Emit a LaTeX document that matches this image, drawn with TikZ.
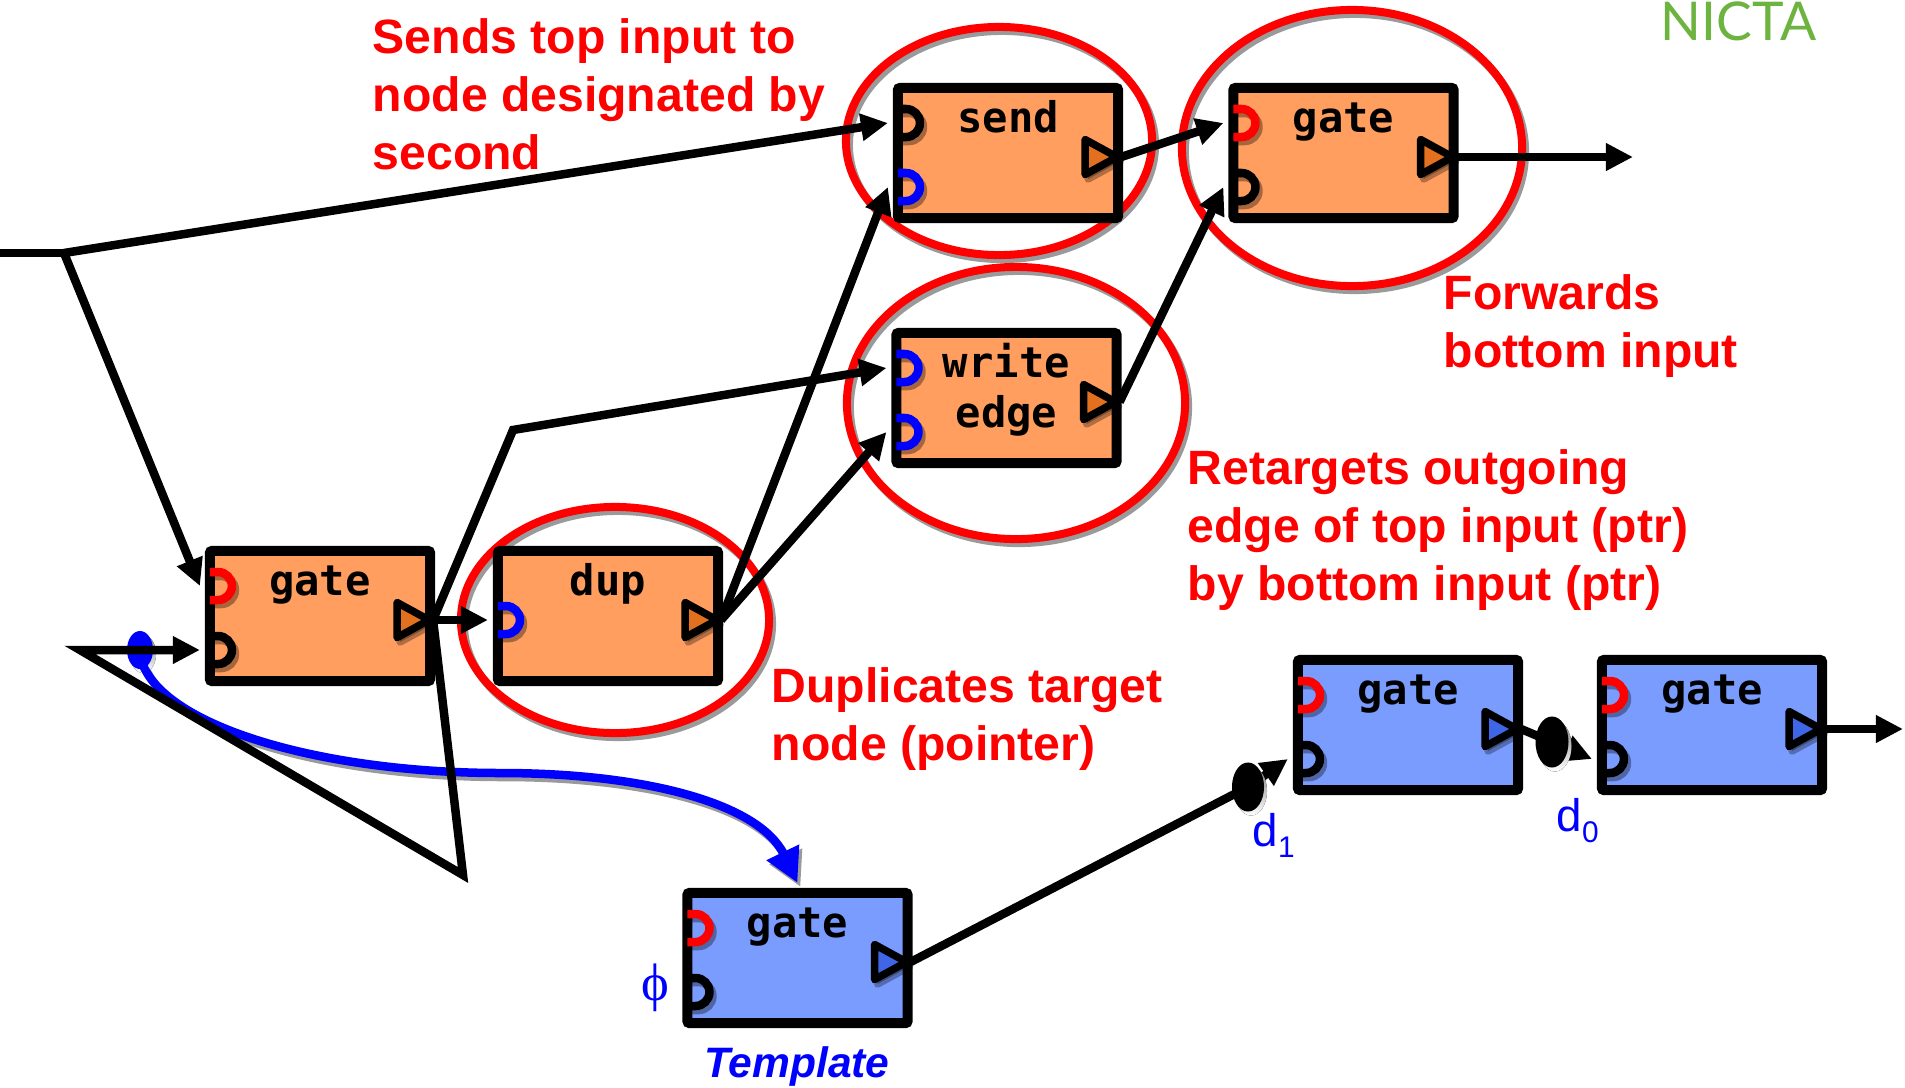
\documentclass[tikz,border=0pt]{standalone}
\usepackage{fontspec}
\setmainfont{Liberation Sans}
\newfontfamily\monofont{DejaVu Sans Mono}
\newfontfamily\logofont{Lato}
\newfontfamily\serifgreek{Liberation Serif}
\usetikzlibrary{arrows.meta,calc}

\definecolor{fnorange}{HTML}{FF9E5E}
\definecolor{tiporange}{HTML}{E2701E}
\definecolor{fnblue}{HTML}{7A9CFF}
\definecolor{tipblue}{HTML}{3E66E6}
\definecolor{logogreen}{HTML}{6CB33F}
\definecolor{inkblue}{HTML}{0000FF}
\definecolor{inkred}{HTML}{FF0000}
\definecolor{shade}{HTML}{9A9A9A}

\tikzset{
  fnbox/.style={draw=black, line width=0.1cm, rounded corners=0.02cm,
    minimum width=2.2cm, minimum height=1.3cm, inner sep=0pt},
  orangebox/.style={fnbox, fill=fnorange},
  bluebox/.style={fnbox, fill=fnblue},
  fnname/.style={font=\monofont\bfseries\fontsize{12}{14.2}\selectfont,
    inner sep=0pt, anchor=base, align=center},
  wire/.style={draw=black, line width=0.085cm},
  arr/.style={wire, -{Triangle[length=0.27cm,width=0.26cm]}},
  ring/.style={draw=inkred, line width=0.08cm},
  ringshadow/.style={draw=shade, line width=0.08cm},
  note/.style={text=inkred, font=\bfseries\fontsize{13.7}{16.5}\selectfont,
    align=left, inner sep=0pt, anchor=north west},
  tag/.style={text=inkblue, inner sep=0pt, anchor=base west,
    font=\fontsize{13}{15}\selectfont},
  pics/inport/.style={code={
    \draw[black, opacity=0.35, line width=0.085cm]
      (0.03cm,0.1cm) -- (0.11cm,0.1cm)
      arc[start angle=90, end angle=-90, radius=0.14cm] -- (0.03cm,-0.18cm);
    \draw[#1, line width=0.085cm]
      (0cm,0.14cm) -- (0.08cm,0.14cm)
      arc[start angle=90, end angle=-90, radius=0.14cm] -- (0cm,-0.14cm);
  }},
  pics/outport/.style={code={
    \filldraw[black, opacity=0.3, line width=0.075cm, line join=round]
      (-0.29cm,0.13cm) -- (0.03cm,-0.045cm) -- (-0.29cm,-0.22cm) -- cycle;
    \filldraw[fill=#1, draw=black, line width=0.075cm, line join=round]
      (-0.32cm,0.175cm) -- (0cm,0cm) -- (-0.32cm,-0.175cm) -- cycle;
  }},
}

\begin{document}
\begin{tikzpicture}[x=0.01cm, y=-0.01cm]
\useasboundingbox (0,0) rectangle (1905,1087);

% highlight rings round the four primitive nodes
\begin{scope}[transform canvas={shift={(0.03cm,-0.04cm)}}]
  \draw[ringshadow] (999,141) ellipse [x radius=1.53cm, y radius=1.14cm];
  \draw[ringshadow] (1352,148) ellipse [x radius=1.70cm, y radius=1.38cm];
  \draw[ringshadow] (1016,403) ellipse [x radius=1.69cm, y radius=1.36cm];
  \draw[ringshadow] (615,620) ellipse [x radius=1.54cm, y radius=1.13cm];
\end{scope}
\draw[ring] (999,141) ellipse [x radius=1.53cm, y radius=1.14cm];
\draw[ring] (1352,148) ellipse [x radius=1.70cm, y radius=1.38cm];
\draw[ring] (1016,403) ellipse [x radius=1.69cm, y radius=1.36cm];
\draw[ring] (615,620) ellipse [x radius=1.54cm, y radius=1.13cm];

% function nodes
\node[orangebox] (send)  at (1008,153)   {};
\node[orangebox] (gateT) at (1343.5,153) {};
\node[orangebox] (write) at (1006.5,398) {};
\node[orangebox] (gateL) at (320,616)    {};
\node[orangebox] (dup)   at (608,616)    {};
\node[bluebox]   (blue1) at (1408,725)   {};
\node[bluebox]   (blue2) at (1712,725)   {};
\node[bluebox]   (tmpl)  at (797.5,958)  {};

\node[fnname] (send-name)  at ($(send.center)+(0,-21)$)  {send};
\node[fnname] (gateT-name) at ($(gateT.center)+(0,-21)$) {gate};
\node[fnname] (write-name) at ($(write.center)+(0,29)$)  {write\\edge};
\node[fnname] (gateL-name) at ($(gateL.center)+(0,-21)$) {gate};
\node[fnname] (dup-name)   at ($(dup.center)+(0,-21)$)   {dup};
\node[fnname] (blue1-name) at ($(blue1.center)+(0,-21)$) {gate};
\node[fnname] (blue2-name) at ($(blue2.center)+(0,-21)$) {gate};
\node[fnname] (tmpl-name)  at ($(tmpl.center)+(0,-21)$)  {gate};

% free wire ends and bends
\coordinate (lin)  at (0,253);
\coordinate (j1)   at (64,253);
\coordinate (fb)   at (463,875);
\coordinate (fbl)  at (80,650);
\coordinate (tap)  at (140,650);
\coordinate (kink) at (513,430);
\coordinate (outT) at (1633,157);
\coordinate (d1)   at (1248,787);
\coordinate (d0)   at (1552,742);
\coordinate (out2) at (1903,729);

% blue template pointer
\begin{scope}[transform canvas={shift={(0.03cm,-0.04cm)}}]
  \draw[draw=shade, line width=0.085cm, -{Triangle[length=0.34cm,width=0.34cm]}]
    ($(tap)+(3,15)$) .. controls (170,730) and (330,773) .. (500,773)
    .. controls (650,773) and (760,805) .. ($(tmpl.north)+(0,-5)$);
  \fill[shade] (tap) ellipse [x radius=0.13cm, y radius=0.19cm];
\end{scope}
\fill[inkblue] (tap) ellipse [x radius=0.13cm, y radius=0.19cm];
\draw[draw=inkblue, line width=0.085cm, -{Triangle[length=0.34cm,width=0.34cm]}]
  ($(tap)+(3,15)$) .. controls (170,730) and (330,773) .. (500,773)
  .. controls (650,773) and (760,805) .. ($(tmpl.north)+(0,-5)$);

% wiring
\draw[wire] (lin) -- (j1);
\draw[arr] (j1) -- ($(send.west)+(-5,-30)$);
\draw[arr] (j1) -- ($(gateL.west)+(-5,-30)$);
\draw[arr] ($(gateL.east)+(-2,4)$) -- (fb) -- (fbl) -- ($(gateL.west)+(-5,34)$);
\draw[arr] ($(gateL.east)+(-2,4)$) -- ($(dup.west)+(-5,4)$);
\draw[arr] ($(gateL.east)+(-2,4)$) -- (kink) -- ($(write.west)+(-5,-30)$);
\draw[arr] ($(dup.east)+(-2,4)$) -- ($(send.west)+(-5,34)$);
\draw[arr] ($(dup.east)+(-2,4)$) -- ($(write.west)+(-5,34)$);
\draw[arr] ($(send.east)+(-2,4)$) -- ($(gateT.west)+(-5,-30)$);
\draw[arr] ($(write.east)+(-2,4)$) -- ($(gateT.west)+(-5,34)$);
\draw[arr] ($(gateT.east)+(-2,4)$) -- (outT);
\draw[arr] ($(tmpl.east)+(-2,4)$) -- (d1) -- ($(blue1.west)+(-5,34)$);
\draw[arr] ($(blue1.east)+(-2,4)$) -- (d0) -- ($(blue2.west)+(-5,34)$);
\draw[arr] ($(blue2.east)+(-2,4)$) -- (out2);

% delay tokens
\fill[shade] ($(d1)+(3,4)$) ellipse [x radius=0.16cm, y radius=0.245cm];
\fill[black] (d1) ellipse [x radius=0.16cm, y radius=0.245cm];
\fill[shade] ($(d0)+(3,4)$) ellipse [x radius=0.165cm, y radius=0.255cm];
\fill[black] (d0) ellipse [x radius=0.165cm, y radius=0.255cm];

% input and output ports
\pic at ($(send.west)+(5,-30)$)  {inport=black};
\pic at ($(send.west)+(5,34)$)   {inport=inkblue};
\pic at ($(send.east)+(-6,4)$)   {outport=tiporange};
\pic at ($(gateT.west)+(5,-30)$) {inport=inkred};
\pic at ($(gateT.west)+(5,34)$)  {inport=black};
\pic at ($(gateT.east)+(-6,4)$)  {outport=tiporange};
\pic at ($(write.west)+(5,-30)$) {inport=inkblue};
\pic at ($(write.west)+(5,34)$)  {inport=inkblue};
\pic at ($(write.east)+(-6,4)$)  {outport=tiporange};
\pic at ($(gateL.west)+(5,-30)$) {inport=inkred};
\pic at ($(gateL.west)+(5,34)$)  {inport=black};
\pic at ($(gateL.east)+(-6,4)$)  {outport=tiporange};
\pic at ($(dup.west)+(5,4)$)     {inport=inkblue};
\pic at ($(dup.east)+(-6,4)$)    {outport=tiporange};
\pic at ($(blue1.west)+(5,-30)$) {inport=inkred};
\pic at ($(blue1.west)+(5,34)$)  {inport=black};
\pic at ($(blue1.east)+(-6,4)$)  {outport=tipblue};
\pic at ($(blue2.west)+(5,-30)$) {inport=inkred};
\pic at ($(blue2.west)+(5,34)$)  {inport=black};
\pic at ($(blue2.east)+(-6,4)$)  {outport=tipblue};
\pic at ($(tmpl.west)+(5,-30)$)  {inport=inkred};
\pic at ($(tmpl.west)+(5,34)$)   {inport=black};
\pic at ($(tmpl.east)+(-6,4)$)   {outport=tipblue};

% annotations
\node[note] (note-send) at (372,18)   {Sends top input to\\node designated by\\second};
\node[note] (note-gate) at (1443,274) {Forwards\\bottom input};
\node[note] (note-write) at (1187,449) {Retargets outgoing\\edge of top input (ptr)\\by bottom input (ptr)};
\node[note] (note-dup) at (771,667)   {Duplicates target\\node (pointer)};

\node[tag] (d1-label) at (1252,846)
  {d\raisebox{-3.2pt}{\fontsize{8.5}{9}\selectfont 1}};
\node[tag] (d0-label) at (1556,831)
  {d\raisebox{-3.2pt}{\fontsize{8.5}{9}\selectfont 0}};
\node[text=inkblue, font=\serifgreek\fontsize{15}{17}\selectfont, inner sep=0pt]
  (phi-label) at (655,988) {ϕ};
\node[text=inkblue, font=\bfseries\itshape\fontsize{12.1}{14}\selectfont, inner sep=0pt, anchor=base]
  (tmpl-label) at (797,1077) {Template};
\node[text=logogreen, font=\logofont\fontsize{15.2}{17}\selectfont, inner sep=0pt, anchor=base west]
  (logo) at (1660,40) {NICTA};
\end{tikzpicture}
\end{document}
